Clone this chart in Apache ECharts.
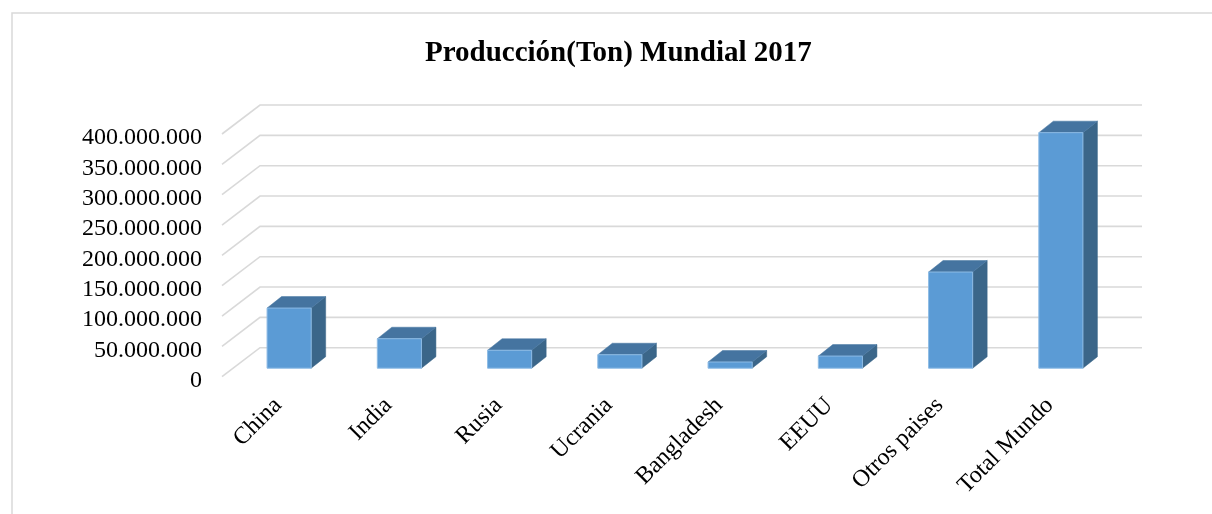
<!DOCTYPE html>
<html>
<head>
<meta charset="utf-8">
<script src="https://cdn.jsdelivr.net/npm/echarts@6/dist/echarts.min.js"></script>
<style>html,body{margin:0;padding:0;background:#fff;}#c{width:1212px;height:514px;}</style>
</head>
<body>
<div id="c"></div>
<script>
const titleText = 'Producción(Ton) Mundial 2017';
const categories = ['China', 'India', 'Rusia', 'Ucrania', 'Bangladesh', 'EEUU', 'Otros paises', 'Total Mundo'];
const production = [99100000, 48600000, 29600000, 22200000, 10200000, 20000000, 158500000, 388200000];
const yTicks = [0, 50000000, 100000000, 150000000, 200000000, 250000000, 300000000, 350000000, 400000000];

const FONT = '"Liberation Serif", "Times New Roman", serif';
const WALL_DX = 38, WALL_DY = -29;      // perspective depth of the back wall
const BAR_SHIFT_X = 12, BAR_SHIFT_Y = -8.5;  // bar front face position in depth
const BAR_DX = 14.5, BAR_DY = -11.5;     // bar depth

function fmt(v) { return String(v).replace(/\B(?=(\d{3})+(?!\d))/g, '.'); }

const chart = echarts.init(document.getElementById('c'), null, {renderer: 'canvas'});

const gridRender = function (params, api) {
  const cs = params.coordSys;
  const y = api.coord([0, api.value(0)])[1];
  const x0 = cs.x;
  const x1 = cs.x + cs.width;
  return {
    type: 'polyline',
    shape: {points: [[x0, y], [x0 + WALL_DX, y + WALL_DY], [x1 + WALL_DX, y + WALL_DY]]},
    style: {stroke: '#d9d9d9', lineWidth: 1.6, fill: null},
    silent: true
  };
};

const barRender = function (params, api) {
  const idx = api.value(0);
  const top = api.coord([idx, api.value(1)]);
  const base = api.coord([idx, 0]);
  const bw = api.size([1, 0])[0] * 0.4;
  const xl = top[0] + BAR_SHIFT_X - bw / 2;
  const xr = xl + bw;
  const yt = top[1] + BAR_SHIFT_Y;
  const yb = base[1] + BAR_SHIFT_Y;
  return {
    type: 'group',
    children: [
      {type: 'polygon', shape: {points: [[xr, yt], [xr + BAR_DX, yt + BAR_DY], [xr + BAR_DX, yb + BAR_DY], [xr, yb]]},
        style: {fill: '#3b6689', stroke: '#3b6689', lineWidth: 0.5}},
      {type: 'polygon', shape: {points: [[xl, yt], [xl + BAR_DX, yt + BAR_DY], [xr + BAR_DX, yt + BAR_DY], [xr, yt]]},
        style: {fill: '#4574a0', stroke: '#4574a0', lineWidth: 0.5}},
      {type: 'rect', shape: {x: xl, y: yt, width: bw, height: yb - yt},
        style: {fill: '#5b9bd5', stroke: '#8dbbe5', lineWidth: 1}}
    ]
  };
};

chart.setOption({
  animation: false,
  backgroundColor: '#ffffff',
  title: {
    text: titleText,
    left: 420,
    top: 34,
    textStyle: {fontFamily: FONT, fontSize: 29, fontWeight: 'bold', color: '#000'}
  },
  graphic: [{
    type: 'rect', silent: true, x: 0, y: 0,
    shape: {x: 12, y: 13, width: 1400, height: 700},
    style: {fill: null, stroke: '#d9d9d9', lineWidth: 1.5}
  }],
  grid: [
    {left: 222, width: 882, top: 134, height: 242.7},
    {left: 223, width: 882, top: 138, height: 242.7}
  ],
  xAxis: [
    {type: 'category', gridIndex: 0, data: categories, show: false},
    {type: 'category', gridIndex: 1, data: categories,
      axisLine: {show: false}, axisTick: {show: false}, splitLine: {show: false},
      axisLabel: {rotate: 45, margin: 21, interval: 0, fontFamily: FONT, fontSize: 24, color: '#000'}}
  ],
  yAxis: [
    {type: 'value', gridIndex: 0, min: 0, max: 400000000, interval: 50000000, show: false},
    {type: 'value', gridIndex: 1, min: 0, max: 400000000, interval: 50000000,
      axisLine: {show: false}, axisTick: {show: false}, splitLine: {show: false},
      axisLabel: {margin: 21, fontFamily: FONT, fontSize: 24, color: '#000', formatter: fmt}}
  ],
  series: [
    {type: 'custom', xAxisIndex: 0, yAxisIndex: 0, renderItem: gridRender,
      data: yTicks.map(v => [v]), encode: {y: 0}, z: 1, silent: true},
    {type: 'custom', xAxisIndex: 0, yAxisIndex: 0, renderItem: barRender,
      data: production.map((v, i) => [i, v]), encode: {x: 0, y: 1}, z: 2}
  ]
});
</script>
</body>
</html>
